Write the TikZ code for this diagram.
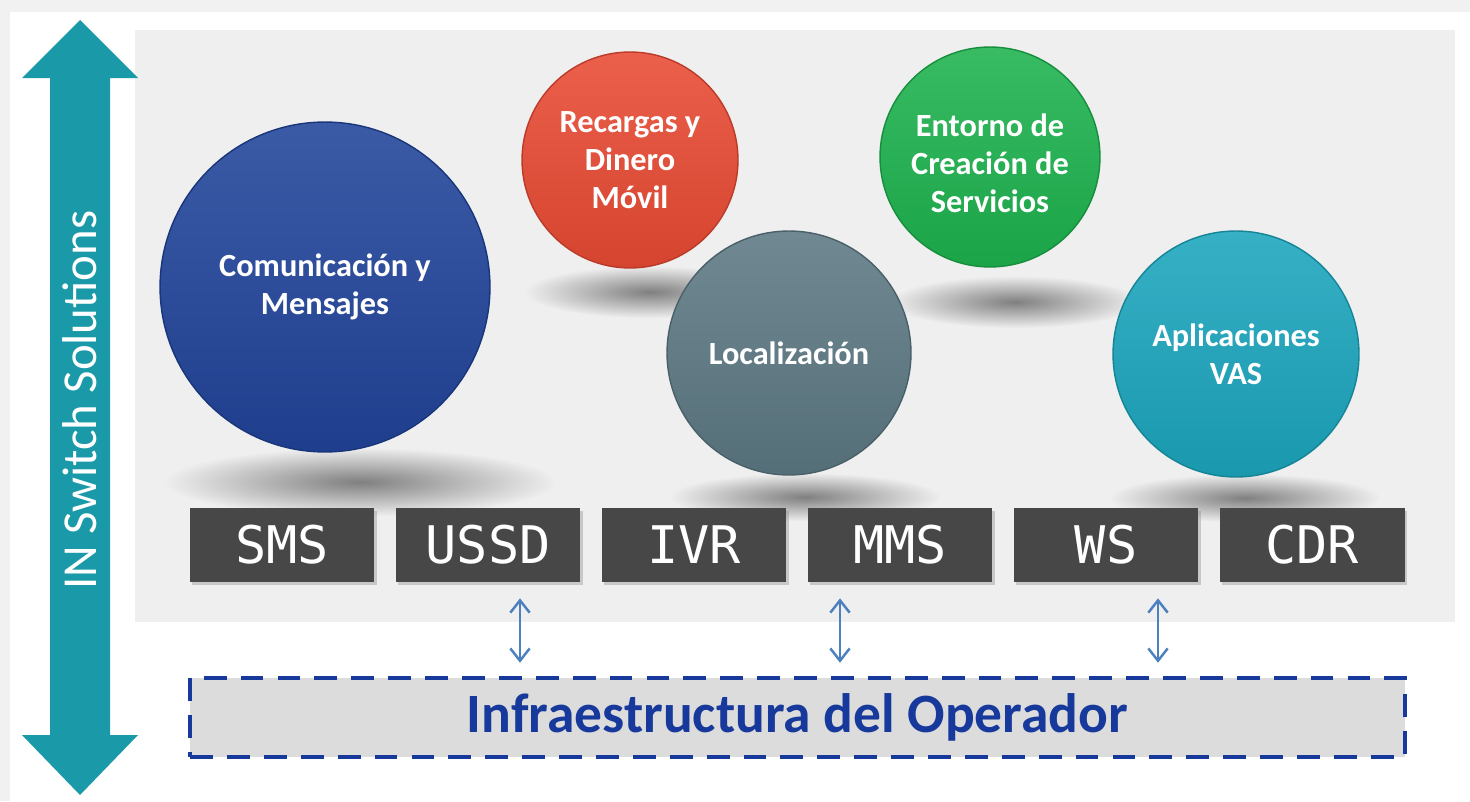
\documentclass[tikz,border=0pt]{standalone}
\usepackage{fontspec}
\setmainfont{Carlito}
\newfontfamily\svcfont{DejaVu Sans Mono}
\usepackage{tikz}
\usetikzlibrary{positioning, arrows.meta, calc, shadows, fadings}
\definecolor{frameG}{HTML}{F1F1F1}
\definecolor{panel}{HTML}{EFEFEF}
\definecolor{accT}{HTML}{1A9AA9}
\definecolor{cBlue}{HTML}{21449A}
\definecolor{cRed}{HTML}{E84A33}
\definecolor{cSlate}{HTML}{5C7883}
\definecolor{cGreen}{HTML}{1DB24E}
\definecolor{cTeal}{HTML}{1BA5BD}
\definecolor{svcG}{HTML}{474747}
\definecolor{infraB}{HTML}{17399B}
\definecolor{infraF}{HTML}{DCDCDC}
\definecolor{linkB}{HTML}{4D80BE}
\tikzfading[name=softedge, inner color=transparent!0, outer color=transparent!100]
\tikzset{
  bubble/.style  ={circle, draw=#1!80!black, line width=0.8pt,
                   top color=#1!88!white, bottom color=#1!92!black,
                   text=white, align=center, inner sep=0pt,
                   font=\bfseries\fontsize{18.4}{21.6}\selectfont},
  blob/.style    ={black!50, path fading=softedge},
  svc/.style     ={fill=svcG, text=white, inner sep=0pt,
                   minimum width=3.7cm, minimum height=1.48cm,
                   font=\svcfont\fontsize{29.5}{30}\selectfont,
                   drop shadow={shadow xshift=1.5pt, shadow yshift=-1.5pt,
                                opacity=0.35}},
  infra/.style   ={draw=infraB, dash pattern=on 13pt off 8pt,
                   line width=2.6pt, fill=infraF, text=infraB,
                   minimum width=24.3cm, minimum height=1.58cm,
                   font=\bfseries\fontsize{31.6}{36}\selectfont},
  link/.style    ={{Straight Barb[length=7pt,width=11pt]}-{Straight Barb[length=7pt,width=11pt]},
                   linkB, line width=1.4pt},
  axislabel/.style={rotate=90, text=white,
                   font=\fontsize{27.8}{30}\selectfont},
}

\begin{document}
\begin{tikzpicture}[x=0.02cm, y=-0.02cm]
\useasboundingbox (0,0) rectangle (1470,801);

% page and grey panel behind the services
\fill[frameG] (0,0) rectangle (1470,801);
\fill[white] (10,12) rectangle (1470,801);
\fill[panel] (135,30) rectangle (1455,622);

% soft shadows under the bubbles
\fill[blob] (360,482) ellipse [x radius=195, y radius=34];
\fill[blob] (650,292) ellipse [x radius=125, y radius=26];
\fill[blob] (1015,302) ellipse [x radius=125, y radius=26];
\fill[blob] (805,497) ellipse [x radius=135, y radius=24];
\fill[blob] (1245,498) ellipse [x radius=135, y radius=24];

% vertical double arrow
\fill[accT] (80,20) -- (138,78) -- (110,78) -- (110,735) -- (138,735)
  -- (80,795) -- (22,735) -- (50,735) -- (50,78) -- (22,78) -- cycle;
\node[axislabel] (title) at (80,400) {IN Switch Solutions};

% service bubbles
\node[bubble=cBlue, minimum size=6.6cm] (COM) at (325,287)
  {Comunicación y\\Mensajes};
\node[bubble=cRed, minimum size=4.32cm] (REC) at (630,160)
  {Recargas y\\Dinero\\Móvil};
\node[bubble=cGreen, minimum size=4.4cm] (SCE) at (990,157)
  {\\[-2pt]Entorno de\\Creación de\\Servicios};
\node[bubble=cSlate, minimum size=4.88cm] (LOC) at (789,353)
  {Localización};
\node[bubble=cTeal, minimum size=4.92cm] (VAS) at (1236,354)
  {Aplicaciones\\VAS};

% interface row
\foreach \lbl [count=\i] in {SMS,USSD,IVR,MMS,WS,CDR} {
  \node[svc] (\lbl) at ({282+206*(\i-1)},545) {\lbl};
}

% operator side
\node[infra] (infra) at (797.5,717.5) {Infraestructura del Operador};

\foreach \n/\dx in {USSD/32, MMS/-60, WS/52} {
  \draw[link] ($(\n.south)+(\dx,16)$) -- ($(\n.south |- infra.north)+(\dx,-13)$);
}

\end{tikzpicture}
\end{document}
